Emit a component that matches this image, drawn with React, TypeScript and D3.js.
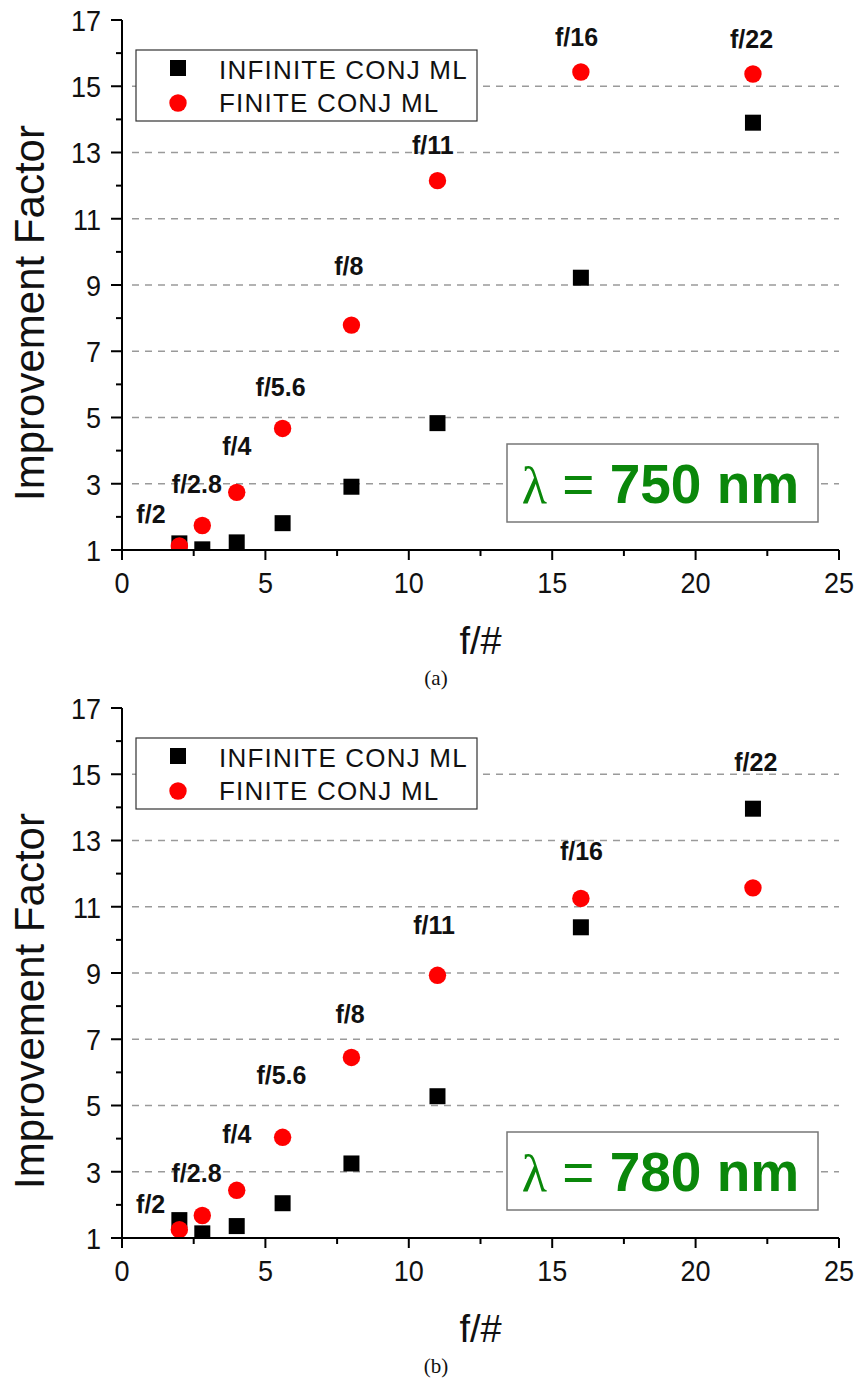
import React from "react";
import * as d3 from "d3";

// f-numbers on the x axis and their labels
const fNumbers = [2, 2.8, 4, 5.6, 8, 11, 16, 22];
const fLabels = ["f/2", "f/2.8", "f/4", "f/5.6", "f/8", "f/11", "f/16", "f/22"];

// panel (a) 750 nm
const infinite750 = [1.2, 1.02, 1.23, 1.81, 2.91, 4.83, 9.22, 13.9];
const finite750 = [1.12, 1.74, 2.74, 4.67, 7.79, 12.15, 15.43, 15.37];
const labelX750 = [1.01, 2.61, 4.0, 5.53, 7.91, 10.84, 15.85, 21.95];
const labelY750 = [2.08, 2.99, 4.13, 5.91, 9.56, 13.23, 16.5, 16.43];

// panel (b) 780 nm
const infinite780 = [1.54, 1.14, 1.36, 2.05, 3.25, 5.28, 10.38, 13.96];
const finite780 = [1.25, 1.68, 2.44, 4.04, 6.45, 8.93, 11.25, 11.57];
const labelX780 = [1.0, 2.6, 4.0, 5.56, 7.95, 10.88, 16.02, 22.1];
const labelY780 = [2.03, 2.96, 4.13, 5.93, 7.76, 10.45, 12.68, 15.37];

const xMajor = [0, 5, 10, 15, 20, 25];
const xMinor = [2.5, 7.5, 12.5, 17.5, 22.5];
const yMajor = [1, 3, 5, 7, 9, 11, 13, 15, 17];
const yMinor = [2, 4, 6, 8, 10, 12, 14, 16];
const yGrid = [3, 5, 7, 9, 11, 13, 15];

const seriesNames = ["INFINITE CONJ ML", "FINITE CONJ ML"];

const FONT = "'Liberation Sans', Arial, sans-serif";
const LEFT = 122;
const PW = 717;
const PH = 530;
const SQ = 16;
const R = 8.7;
const GREEN = "#0a870a";

function Panel({ id, top, infinite, finite, labelX, labelY, wavelength, caption }) {
  const x = d3.scaleLinear().domain([0, 25]).range([0, PW]);
  const y = d3.scaleLinear().domain([1, 17]).range([PH, 0]);
  const pts = fNumbers.map((f, i) => ({ f, inf: infinite[i], fin: finite[i], lab: fLabels[i], lx: labelX[i], ly: labelY[i] }));

  const boxW = 311;
  const boxH = 78;
  const boxX = PW - 21 - boxW;
  const boxY = PH - 28 - boxH;

  return (
    <g transform={`translate(${LEFT},${top})`}>
      <defs>
        <clipPath id={`clip-${id}`}>
          <rect x={-20} y={-40} width={PW + 40} height={PH + 40} />
        </clipPath>
      </defs>

      {/* grid */}
      {yGrid.map(v => (
        <line key={v} x1={x(0) + 10} x2={x(25)} y1={y(v)} y2={y(v)}
              stroke="#9a9a9a" strokeWidth={1.5} strokeDasharray="7,6" />
      ))}

      {/* y title */}
      <text transform={`translate(${44 - LEFT},${293}) rotate(-90)`} textAnchor="middle"
            style={{ fontFamily: FONT, fontSize: 42 }} fill="#111">Improvement Factor</text>

      {/* legend */}
      <rect x={14} y={30} width={341} height={71} fill="white" stroke="#333" strokeWidth={1.2} />
      <rect x={56 - SQ / 2} y={48 - SQ / 2} width={SQ} height={SQ} fill="black" />
      <circle cx={56} cy={83} r={R} fill="#ff0000" />
      <text x={97} y={59} style={{ fontFamily: FONT, fontSize: 26, letterSpacing: 1.2 }} fill="#111">{seriesNames[0]}</text>
      <text x={97} y={92} style={{ fontFamily: FONT, fontSize: 26, letterSpacing: 1.2 }} fill="#111">{seriesNames[1]}</text>

      {/* wavelength box */}
      <rect x={boxX} y={boxY} width={boxW} height={boxH} fill="white" stroke="#777" strokeWidth={1.5} />
      <text x={boxX + boxW / 2 - 2} y={boxY + 59} textAnchor="middle" fill={GREEN} style={{ fontFamily: FONT, fontSize: 55 }}>
        <tspan style={{ fontFamily: "'Liberation Serif', 'DejaVu Serif', serif", fontSize: 52 }}>λ</tspan>
        <tspan> = </tspan>
        <tspan fontWeight="bold">{wavelength} nm</tspan>
      </text>

      {/* markers */}
      <g clipPath={`url(#clip-${id})`}>
        {pts.map(p => (
          <rect key={"s" + p.f} x={x(p.f) - SQ / 2} y={y(p.inf) - SQ / 2} width={SQ} height={SQ} fill="black" />
        ))}
        {pts.map(p => (
          <circle key={"c" + p.f} cx={x(p.f)} cy={y(p.fin)} r={R} fill="#ff0000" />
        ))}
      </g>

      {/* point labels */}
      {pts.map(p => (
        <text key={"l" + p.f} x={x(p.lx)} y={y(p.ly)} dy="0.36em" textAnchor="middle"
              style={{ fontFamily: FONT, fontSize: 25, fontWeight: "bold" }} fill="#111">{p.lab}</text>
      ))}

      {/* axes */}
      <line x1={0} x2={0} y1={0} y2={PH} stroke="black" strokeWidth={2} />
      <line x1={0} x2={PW} y1={PH} y2={PH} stroke="black" strokeWidth={2} />
      {yMajor.map(v => (
        <g key={v} transform={`translate(0,${y(v)})`}>
          <line x1={-11} x2={0} stroke="black" strokeWidth={2} />
          <text transform="translate(-21,0) scale(0.9,1)" dy="0.36em" textAnchor="end"
                style={{ fontFamily: FONT, fontSize: 30 }} fill="#111">{v}</text>
        </g>
      ))}
      {yMinor.map(v => (
        <line key={v} x1={-6} x2={0} y1={y(v)} y2={y(v)} stroke="black" strokeWidth={2} />
      ))}
      {xMajor.map(v => (
        <g key={v} transform={`translate(${x(v)},${PH})`}>
          <line y1={0} y2={10} stroke="black" strokeWidth={2} />
          <text transform="translate(0,43) scale(0.9,1)" textAnchor="middle"
                style={{ fontFamily: FONT, fontSize: 30 }} fill="#111">{v}</text>
        </g>
      ))}
      {xMinor.map(v => (
        <line key={v} x1={x(v)} x2={x(v)} y1={PH} y2={PH + 6} stroke="black" strokeWidth={2} />
      ))}

      {/* x title */}
      <text x={PW / 2} y={PH + 104} textAnchor="middle" style={{ fontFamily: FONT, fontSize: 38 }} fill="#111">f/#</text>

      {/* caption */}
      <text x={436 - LEFT} y={PH + 135} textAnchor="middle"
            style={{ fontFamily: "'Liberation Serif', 'Times New Roman', serif", fontSize: 21 }} fill="#111">{caption}</text>
    </g>
  );
}

export default function App() {
  return (
    <svg width={860} height={1380} style={{ position: "absolute", left: 0, top: 0, background: "white" }}>
      <rect width={860} height={1380} fill="white" />
      <Panel id="a" top={20} infinite={infinite750} finite={finite750} labelX={labelX750} labelY={labelY750} wavelength={750} caption="(a)" />
      <Panel id="b" top={708} infinite={infinite780} finite={finite780} labelX={labelX780} labelY={labelY780} wavelength={780} caption="(b)" />
    </svg>
  );
}
